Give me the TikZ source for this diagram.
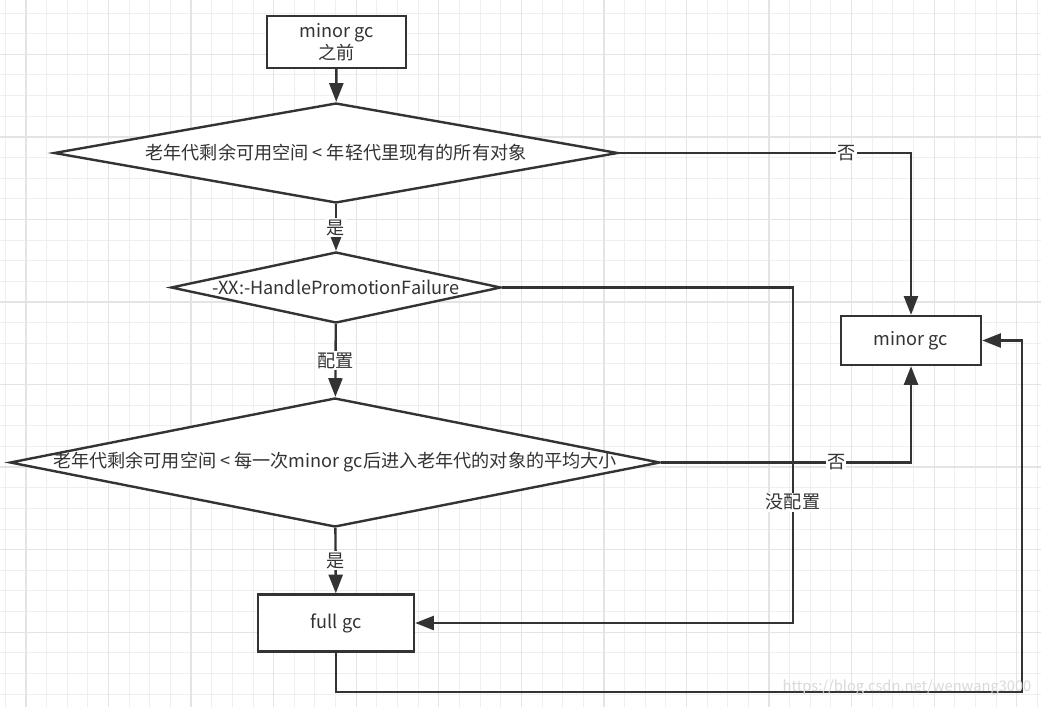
\documentclass[tikz,border=0pt]{standalone}
\usepackage{fontspec}
\setmainfont{Noto Sans CJK SC}
\usetikzlibrary{shapes.geometric,arrows.meta}
\definecolor{ink}{HTML}{333333}
\definecolor{gridminor}{HTML}{EFEFEF}
\definecolor{gridmajor}{HTML}{E4E4E4}
\begin{document}
\begin{tikzpicture}[x=0.75pt,y=-0.75pt,
    font=\fontsize{13.6pt}{16.5pt}\selectfont,
    every node/.style={text=ink},
    proc/.style={rectangle,draw=ink,line width=1.8pt,fill=white,align=center,inner sep=0pt},
    decision/.style={diamond,draw=ink,line width=1.8pt,fill=white,inner sep=0pt},
    lbl/.style={fill=white,inner sep=1pt},
    >={Triangle[length=14pt,width=10.5pt]}]
      \useasboundingbox (0,0) rectangle (1041,707);
      \fill[white] (0,0) rectangle (1041,707);
      \foreach \k in {-1,...,49}
        \draw[gridminor,line width=0.75pt] ({26+20.64*\k},0) -- ({26+20.64*\k},707);
      \foreach \k in {-2,...,31}
        \draw[gridminor,line width=0.75pt] (0,{54.3+20.64*\k}) -- (1041,{54.3+20.64*\k});
      \foreach \k in {0,4,...,48}
        \draw[gridmajor,line width=1pt] ({26+20.64*\k},0) -- ({26+20.64*\k},707);
      \foreach \k in {0,4,...,28}
        \draw[gridmajor,line width=1pt] (0,{54.3+20.64*\k}) -- (1041,{54.3+20.64*\k});
      \draw
        (336.5,42) node[proc,minimum width=104pt,minimum height=39pt] (start){minor gc\\之前}
        (336,153) node[decision,shape aspect=5.64,minimum width=423pt,minimum height=75pt] (d1){老年代剩余可用空间 < 年轻代里现有的所有对象}
        (336,287.5) node[decision,shape aspect=4.65,minimum width=247.5pt,minimum height=53.25pt] (d2){-XX:-HandlePromotionFailure}
        (335,462.5) node[decision,shape aspect=5.04,inner sep=-2pt,minimum width=487.5pt,minimum height=96.75pt] (d3){老年代剩余可用空间 < 每一次minor gc后进入老年代的对象的平均大小}
        (911,340.5) node[proc,minimum width=105pt,minimum height=36.75pt] (minor){minor gc}
        (336,623) node[proc,minimum width=117pt,minimum height=42.75pt] (full){full gc};
      \coordinate (nocfg) at (793,287.5);
      \coordinate (loop) at (1022,692);
      \begin{scope}[->,draw=ink,line width=1.8pt]
        \draw (start) -- (d1);
        \draw (d1) -- node[lbl]{是} (d2);
        \draw (d2) -- node[lbl]{配置} (d3);
        \draw (d3) -- node[lbl]{是} (full);
        \draw (d1) -| node[lbl,pos=0.39]{否} (minor);
        \draw (d3) -| node[lbl,pos=0.35]{否} (minor);
        \draw (d2) -- (nocfg) |- node[lbl,pos=0.32]{没配置} (full);
        \draw (full) |- (loop) |- (minor);
      \end{scope}
      \node[text=gray!30,font=\fontsize{11pt}{13pt}\selectfont] (wmark) at (907,687) {https://blog.csdn.net/wenwang3000};
    \end{tikzpicture}
\end{document}
